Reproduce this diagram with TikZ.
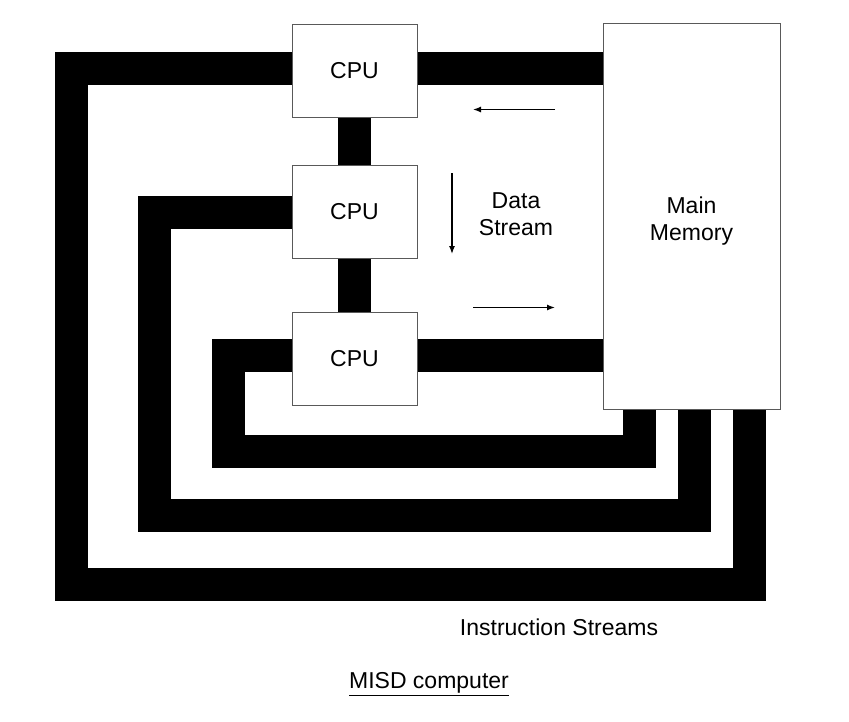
\documentclass[tikz,border=0pt]{standalone}
\usepackage{fontspec}
\setmainfont{Liberation Sans}
\usetikzlibrary{arrows.meta}
\begin{document}
\begin{tikzpicture}[x=1pt,y=-1pt,
  every node/.style={font=\fontsize{23}{27}\selectfont},
  box/.style={draw=black!65, line width=1pt, fill=white, rectangle, inner sep=0pt},
  cpubox/.style={box, minimum width=125pt, minimum height=93pt},
  bus/.style={line width=33pt, line join=miter, line cap=butt, draw=black},
  flow/.style={line width=1.3pt, -{Latex[length=8pt,width=6pt]}},
  lbl/.style={align=center, inner sep=0pt}]
\useasboundingbox (0,0) rectangle (849,721);
% boxes (positions only; drawn again on top)
\path (354.5,70.5) node[cpubox] (cpu1) {}
      (354.5,212) node[cpubox] (cpu2) {}
      (354.5,358.5) node[cpubox] (cpu3) {}
      (691.5,216) node[box, minimum width=177pt, minimum height=386pt] (mem) {};
% bend coordinates
\coordinate (a1) at (71.5,584.5);
\coordinate (b1) at (749.5,584.5);
\coordinate (a2) at (154.5,515);
\coordinate (b2) at (694.5,515);
\coordinate (a3) at (228.5,451);
\coordinate (b3) at (639.5,451);
% instruction streams
\draw[bus] ([yshift=2pt]cpu1.west) -| (a1) -- (b1) -- (b1 |- mem.south);
\draw[bus] (cpu2.west) -| (a2) -- (b2) -- (b2 |- mem.south);
\draw[bus] ([yshift=3.5pt]cpu3.west) -| (a3) -- (b3) -- (b3 |- mem.south);
% data stream buses
\draw[bus] ([yshift=2pt]cpu1.east) -- ([yshift=2pt]cpu1.east -| mem.west);
\draw[bus] ([yshift=3.5pt]cpu3.east) -- ([yshift=3.5pt]cpu3.east -| mem.west);
\draw[bus] (cpu1.south) -- (cpu2.north);
\draw[bus] (cpu2.south) -- (cpu3.north);
% boxes on top
\node[cpubox] at (cpu1) {CPU};
\node[cpubox] at (cpu2) {CPU};
\node[cpubox] at (cpu3) {CPU};
\node[box, minimum width=177pt, minimum height=386pt] at (mem) {};
\node[lbl] (memtext) at ([yshift=-5pt]mem.center) {Main\\Memory};
% data stream arrows
\coordinate (t1) at (555,109.5);
\coordinate (t2) at (473,109.5);
\coordinate (d1) at (452,173);
\coordinate (d2) at (452,254);
\coordinate (r1) at (473,307.5);
\coordinate (r2) at (555,307.5);
\draw[flow] (t1) -- (t2);
\draw[flow] (d1) -- (d2);
\draw[flow] (r1) -- (r2);
\node[lbl] (ds) at (516,214) {Data\\Stream};
\node[lbl] (is) at (559,627) {Instruction Streams};
\node[lbl] (cap) at (429,684) {\underline{MISD computer}};
\end{tikzpicture}
\end{document}
